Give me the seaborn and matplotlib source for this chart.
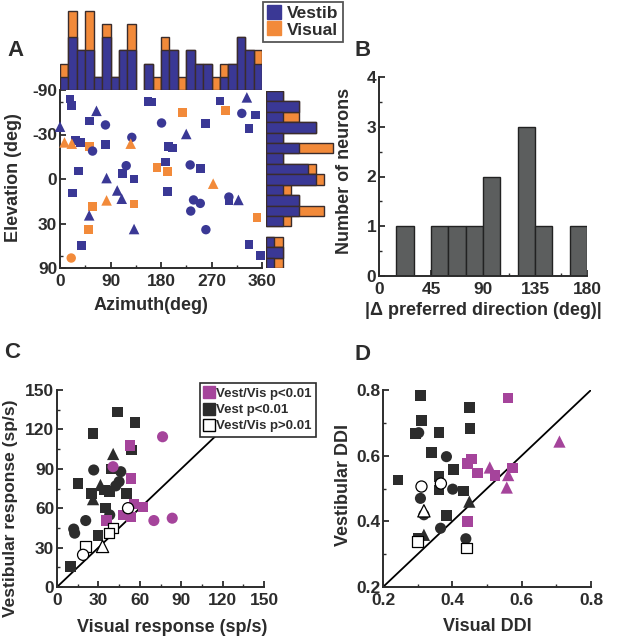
import numpy as np
import pandas as pd
import matplotlib
matplotlib.use("Agg")
import matplotlib.pyplot as plt
from matplotlib.lines import Line2D
import seaborn as sns

# ---- data ----
# panel A: preferred direction of each neuron (azimuth / elevation in deg)
a_azimuth = [18, 21, 65, 0, 52, 81, 28, 36, 128, 8, 21, 126, 81, 53, 58, 33, 118, 112, 132, 83,
             22, 102, 110, 83, 58, 132, 52, 51, 132, 39, 20,
             157, 163, 181, 219, 285, 333, 295, 324, 349, 260, 337, 225, 194, 200, 232, 188, 251,
             173, 191, 273, 192, 301, 301, 318, 238, 250, 233, 260, 351, 337, 358]
a_elevation = [-64, -55.5, -50, -36, -40.7, -37.4, -25.7, -24.3, -27.9, -24.3, -23.4, -23.4, -22.7,
               -21.3, -18.3, -5.2, -8.6, -3.4, 0, -0.6, 9.1, 7.4, 12.8, 13.9, 17.9, 16.3, 24.1,
               34.7, 34.2, 48.5, 62.6,
               -60.7, -59.9, -39, -48.2, -61.2, -66.5, -50.1, -47.5, -46, -38.4, -34.7, -30.4,
               -21.5, -20.4, -9.1, -11, -6.8, -7.3, -4.9, 3, 8.2, 11.7, 14.3, 13.6, 13.6, 15.9,
               21.1, 34.7, 25.8, 47.6, 59.5]
a_tuning = ["Vestib"] * 9 + ["Visual"] * 3 + ["Vestib", "Visual"] + ["Vestib"] * 9 + \
           ["Visual"] * 3 + ["Vestib", "Visual", "Vestib", "Vestib", "Visual"] + \
           ["Vestib"] * 3 + ["Visual", "Vestib", "Vestib", "Visual"] + ["Vestib"] * 10 + \
           ["Visual"] * 3 + ["Vestib"] * 8 + ["Visual", "Vestib", "Vestib"]
a_shape = ["sq", "sq", "tri", "tri", "sq", "circ", "sq", "sq", "circ", "tri", "tri", "tri", "sq",
           "sq", "circ", "sq", "circ", "sq", "sq", "tri", "sq", "tri", "tri", "tri", "sq", "sq",
           "tri", "sq", "tri", "sq", "circ",
           "sq", "sq", "circ", "sq", "sq", "tri", "sq", "circ", "sq", "sq", "sq", "tri", "sq",
           "sq", "circ", "sq", "sq", "sq", "sq", "tri", "sq", "circ", "sq", "tri", "circ", "circ",
           "circ", "circ", "sq", "sq", "sq"]

# marginal histograms of panel A (counts per bin)
az_edges = list(range(0, 361, 15))
az_vestib = [1, 4, 3, 3, 1, 4, 1, 3, 3, 0, 2, 0, 3, 3, 0, 3, 2, 2, 0, 1, 2, 4, 3, 2]
az_visual = [1, 2, 0, 3, 0, 1, 0, 0, 2, 0, 0, 1, 1, 0, 1, 0, 0, 0, 1, 1, 0, 0, 0, 1]
el_edges = list(range(0, 18))
el_vestib = [2, 4, 2, 6, 2, 4, 2, 5, 6, 2, 4, 4, 2, 0, 1, 2, 1]
el_visual = [0, 0, 2, 0, 0, 4, 0, 1, 1, 1, 0, 3, 1, 0, 1, 0, 1]

# panel B
b_edges = list(range(0, 181, 15))
b_counts = [0, 1, 0, 1, 1, 1, 2, 0, 3, 1, 0, 1]

# panel C: response amplitudes (sp/s)
c_sig_x = [76.5, 52.8, 40.6, 53.5, 55.7, 62.4, 47.9, 53.5, 35.8, 70.2, 83.5]
c_sig_y = [114.4, 107.6, 91.6, 82.8, 63.3, 60.8, 54.9, 53.2, 50.6, 50.6, 52.4]
c_sig_shape = ["circ", "sq", "circ", "sq", "sq", "sq", "sq", "sq", "sq", "circ", "circ"]
c_vest_x = [43.8, 56.4, 26.1, 40.7, 54.0, 26.6, 39.5, 46.2, 45.0, 42.6, 15.2, 31.5, 25.0, 26.1,
            34.6, 38.2, 50.4, 35.3, 38.2, 20.8, 12.1, 12.8, 29.8, 9.9]
c_vest_y = [133.4, 125.1, 117.0, 101.3, 104.3, 89.1, 89.9, 87.8, 80.2, 77.0, 79.0, 77.7, 71.4,
            66.9, 73.9, 72.6, 71.4, 60.0, 54.9, 50.6, 44.1, 41.0, 39.0, 15.7]
c_vest_shape = ["sq", "sq", "sq", "tri", "sq", "circ", "sq", "circ", "circ", "circ", "sq", "tri",
                "sq", "tri", "sq", "sq", "sq", "sq", "circ", "circ", "circ", "circ", "sq", "sq"]
c_ns_x = [51.5, 40.7, 37.8, 20.8, 18.9, 33.0]
c_ns_y = [60.0, 44.8, 41.0, 30.9, 24.5, 30.9]
c_ns_shape = ["circ", "sq", "sq", "sq", "circ", "tri"]

# panel D: direction discrimination index
d_sig_x = [0.561, 0.709, 0.455, 0.443, 0.473, 0.508, 0.523, 0.573, 0.561, 0.557, 0.443]
d_sig_y = [0.775, 0.643, 0.590, 0.577, 0.547, 0.564, 0.539, 0.562, 0.541, 0.503, 0.400]
d_sig_shape = ["sq", "tri", "sq", "sq", "sq", "tri", "sq", "sq", "tri", "tri", "sq"]
d_vest_x = [0.308, 0.311, 0.294, 0.303, 0.362, 0.449, 0.451, 0.340, 0.383, 0.404, 0.362, 0.362,
            0.401, 0.433, 0.243, 0.308, 0.318, 0.449, 0.383, 0.366, 0.318, 0.301, 0.439]
d_vest_y = [0.783, 0.707, 0.668, 0.670, 0.671, 0.747, 0.683, 0.609, 0.597, 0.557, 0.536, 0.496,
            0.498, 0.493, 0.526, 0.470, 0.420, 0.460, 0.418, 0.379, 0.359, 0.347, 0.347]
d_vest_shape = ["sq", "sq", "sq", "circ", "sq", "sq", "sq", "sq", "circ", "sq", "sq", "sq", "circ",
                "sq", "sq", "circ", "circ", "tri", "sq", "circ", "tri", "sq", "circ"]
d_ns_x = [0.311, 0.367, 0.318, 0.299, 0.441]
d_ns_y = [0.506, 0.515, 0.432, 0.339, 0.319]
d_ns_shape = ["circ", "circ", "tri", "sq", "sq"]

# ---- style ----
BLUE = "#3a3895"
ORANGE = "#f28a3a"
PURPLE = "#a5449b"
DARK = "#2c2c2c"
GRAY = "#5c5e5e"
EDGE = "#3a2c2c"
MARKERS = {"sq": "s", "circ": "o", "tri": "^"}
SIZES_A = {"sq": 40, "circ": 46, "tri": 58}
SIZES_CD = {"sq": 58, "circ": 64, "tri": 78}

sns.set_style("ticks")
plt.rcParams["font.family"] = ["Liberation Sans", "DejaVu Sans"]
plt.rcParams["font.weight"] = "bold"
plt.rcParams["axes.labelweight"] = "bold"
plt.rcParams["axes.unicode_minus"] = False
plt.rcParams["text.color"] = DARK
plt.rcParams["axes.labelcolor"] = DARK
plt.rcParams["xtick.color"] = DARK
plt.rcParams["ytick.color"] = DARK
plt.rcParams["xtick.direction"] = "in"
plt.rcParams["ytick.direction"] = "in"

W, H = 618, 640
fig = plt.figure(figsize=(W / 100, H / 100), dpi=100)


def px_axes(x0, y0, x1, y1):
    return fig.add_axes([x0 / W, 1 - y1 / H, (x1 - x0) / W, (y1 - y0) / H])


def style_axes(ax):
    sns.despine(ax=ax)
    for side in ["left", "bottom"]:
        ax.spines[side].set_linewidth(1.4)
        ax.spines[side].set_color(DARK)
    ax.tick_params(which="major", length=4, width=1.3, labelsize=12.5)
    ax.tick_params(axis="x", which="major", pad=4)
    ax.tick_params(axis="y", which="major", pad=2)
    ax.tick_params(which="minor", length=2, width=1)


def set_labels(ax, xlabel, ylabel, xpos, ypos, size=13):
    # label positions in axes fraction, as placed in the original figure
    ax.set_xlabel(xlabel, fontsize=13)
    ax.set_ylabel(ylabel, fontsize=size)
    ax.xaxis.set_label_coords(*xpos)
    ax.yaxis.set_label_coords(*ypos)


def count_hist(ax, edges, counts, color, vertical=True, lw=1.0, edge=EDGE):
    # one bar per non-empty bin, drawn as a weighted histogram
    edges = np.asarray(edges, dtype=float)
    centers = (edges[:-1] + edges[1:]) / 2
    counts = np.asarray(counts, dtype=float)
    keep = counts > 0
    df = pd.DataFrame({"pos": centers[keep], "n": counts[keep]})
    key = "x" if vertical else "y"
    n_before = len(ax.patches)
    sns.histplot(data=df, weights="n", bins=list(edges), color=color, alpha=1,
                 edgecolor=edge, linewidth=lw, ax=ax, **{key: "pos"})
    # hide the empty bins so no edge line is drawn in the gaps
    for p in ax.patches[n_before:]:
        size = p.get_height() if vertical else p.get_width()
        if size == 0:
            p.set_visible(False)


# ---- panel A ----
ax_a = px_axes(60, 90, 262, 268)
df_a = pd.DataFrame({"az": a_azimuth, "el": a_elevation, "tuning": a_tuning, "shape": a_shape})
sns.scatterplot(data=df_a, x="az", y="el", hue="tuning", style="shape", size="shape",
                palette={"Vestib": BLUE, "Visual": ORANGE}, markers=MARKERS, sizes=SIZES_A,
                linewidth=0, legend=False, ax=ax_a, clip_on=False, zorder=3)
ax_a.set_yscale("function", functions=(lambda v: np.sin(np.deg2rad(v)),
                                       lambda v: np.rad2deg(np.arcsin(np.clip(v, -1, 1)))))
ax_a.set_xlim(0, 360)
ax_a.set_ylim(90, -90)
ax_a.set_xticks([0, 90, 180, 270, 360])
ax_a.set_xticks([45, 135, 225, 315], minor=True)
ax_a.set_yticks([-90, -30, 0, 30, 90])
ax_a.set_yticklabels(["-90", "-30", "0", "30", "90"])
ax_a.set_yticks([-60, 60], minor=True)
style_axes(ax_a)
set_labels(ax_a, "Azimuth(deg)", "Elevation (deg)", (0.45, -0.165), (-0.19, 0.51))

# top histogram (azimuth): orange total first, blue vestibular part on top of it
ax_top = px_axes(60, 6, 262, 90)
az_total = np.array(az_vestib) + np.array(az_visual)
count_hist(ax_top, az_edges, az_total, ORANGE)
count_hist(ax_top, az_edges, az_vestib, BLUE)
ax_top.set_xlim(0, 360)
ax_top.set_ylim(0, 6.35)
ax_top.axis("off")

# side histogram (elevation)
ax_side = px_axes(266, 91, 336, 268)
el_total = np.array(el_vestib) + np.array(el_visual)
count_hist(ax_side, el_edges, el_total, ORANGE, vertical=False)
count_hist(ax_side, el_edges, el_vestib, BLUE, vertical=False)
ax_side.set_ylim(17, 0)
ax_side.set_xlim(0, 8.4)
ax_side.axis("off")

leg_a = [Line2D([], [], marker="s", ls="", color=BLUE, markersize=10, label="Vestib"),
         Line2D([], [], marker="s", ls="", color=ORANGE, markersize=10, label="Visual")]
lg = fig.legend(handles=leg_a, loc="upper left", bbox_to_anchor=(263 / W, 1 - 2 / H),
                fontsize=12.5, frameon=True, fancybox=False, borderpad=0.25, labelspacing=0.05,
                handlelength=0.8, handletextpad=0.35, borderaxespad=0)
lg.get_frame().set_edgecolor(DARK)
lg.get_frame().set_linewidth(1.3)

# ---- panel B ----
ax_b = px_axes(379, 77, 587, 276)
count_hist(ax_b, b_edges, b_counts, GRAY, edge="#222222")
ax_b.set_xlim(0, 180)
ax_b.set_ylim(0, 4)
ax_b.set_xticks([0, 45, 90, 135, 180])
ax_b.set_xticks([22.5, 67.5, 112.5, 157.5], minor=True)
ax_b.set_yticks([0, 1, 2, 3, 4])
ax_b.set_yticks([0.5, 1.5, 2.5, 3.5], minor=True)
style_axes(ax_b)
set_labels(ax_b, "|\u0394 preferred direction (deg)|", "Number of neurons",
           (0.5, -0.13), (-0.125, 0.53))


def ddi_scatter(ax, xs, ys, shapes, face, edge, lw):
    df = pd.DataFrame({"x": xs, "y": ys, "shape": shapes})
    sns.scatterplot(data=df, x="x", y="y", style="shape", size="shape", markers=MARKERS,
                    sizes=SIZES_CD, color=face, edgecolor=edge, linewidth=lw, legend=False,
                    ax=ax, zorder=3, clip_on=False)


# ---- panel C ----
ax_c = px_axes(57, 390, 264, 587)
ax_c.axline((0, 0), slope=1, color="black", lw=1.3, zorder=2)
ddi_scatter(ax_c, c_vest_x, c_vest_y, c_vest_shape, DARK, DARK, 0)
ddi_scatter(ax_c, c_sig_x, c_sig_y, c_sig_shape, PURPLE, PURPLE, 0)
ddi_scatter(ax_c, c_ns_x, c_ns_y, c_ns_shape, "white", "black", 0.9)
ax_c.set_xlim(0, 150)
ax_c.set_ylim(0, 150)
ax_c.set_xticks(np.arange(0, 151, 30))
ax_c.set_xticks(np.arange(15, 150, 30), minor=True)
ax_c.set_yticks(np.arange(0, 151, 30))
ax_c.set_yticks(np.arange(15, 150, 30), minor=True)
style_axes(ax_c)
set_labels(ax_c, "Visual response (sp/s)", "Vestibular response (sp/s)",
           (0.555, -0.16), (-0.19, 0.40), size=12.5)
leg_c = [Line2D([], [], marker="s", ls="", color=PURPLE, markersize=8, label="Vest/Vis p<0.01"),
         Line2D([], [], marker="s", ls="", color=DARK, markersize=8, label="Vest p<0.01"),
         Line2D([], [], marker="s", ls="", markerfacecolor="white", markeredgecolor="black",
                markersize=8, label="Vest/Vis p>0.01")]
lc = ax_c.legend(handles=leg_c, loc="upper left", bbox_to_anchor=(0.69, 1.035), fontsize=9.5,
                 frameon=True, fancybox=False, framealpha=1, borderpad=0.35, labelspacing=0.3,
                 handlelength=0.7, handletextpad=0.15, borderaxespad=0)
lc.get_frame().set_edgecolor(DARK)
lc.get_frame().set_linewidth(1.2)
lc.set_zorder(5)

# ---- panel D ----
ax_d = px_axes(383, 390, 591, 587)
ax_d.axline((0.2, 0.2), slope=1, color="black", lw=1.3, zorder=2)
ddi_scatter(ax_d, d_vest_x, d_vest_y, d_vest_shape, DARK, DARK, 0)
ddi_scatter(ax_d, d_sig_x, d_sig_y, d_sig_shape, PURPLE, PURPLE, 0)
ddi_scatter(ax_d, d_ns_x, d_ns_y, d_ns_shape, "white", "black", 0.9)
ax_d.set_xlim(0.2, 0.8)
ax_d.set_ylim(0.2, 0.8)
ax_d.set_xticks([0.2, 0.4, 0.6, 0.8])
ax_d.set_xticks([0.3, 0.5, 0.7], minor=True)
ax_d.set_yticks([0.2, 0.4, 0.6, 0.8])
ax_d.set_yticks([0.3, 0.5, 0.7], minor=True)
style_axes(ax_d)
set_labels(ax_d, "Visual DDI", "Vestibular DDI", (0.5, -0.155), (-0.15, 0.52))

# panel letters
for letter, x, y in [("A", 15, 50), ("B", 363, 50), ("C", 12, 353), ("D", 362, 355)]:
    fig.text(x / W, 1 - y / H, letter, fontsize=16, fontweight="bold", ha="center", va="center")

fig.savefig("out.png", dpi=100)
